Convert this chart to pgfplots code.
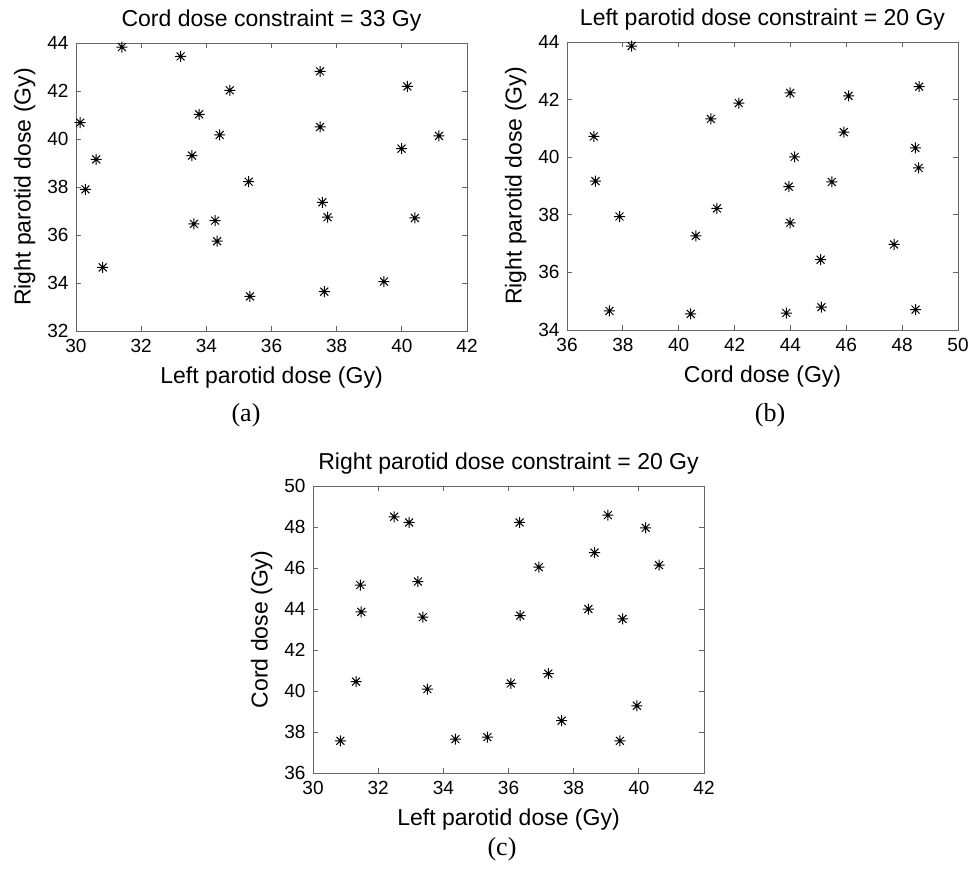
\documentclass[border=0pt]{standalone}
\usepackage{fontspec}
\setmainfont{Liberation Serif}
\setsansfont{Liberation Sans}
\usepackage{pgfplots}
\pgfplotsset{compat=1.18}
\usepackage{pgfplotstable}

% MATLAB-style asterisk: a plus and a cross laid over each other
\pgfdeclareplotmark{mstar}{%
  \pgfpathmoveto{\pgfpoint{-\pgfplotmarksize}{0pt}}%
  \pgfpathlineto{\pgfpoint{\pgfplotmarksize}{0pt}}%
  \pgfpathmoveto{\pgfpoint{0pt}{-\pgfplotmarksize}}%
  \pgfpathlineto{\pgfpoint{0pt}{\pgfplotmarksize}}%
  \pgfpathmoveto{\pgfpoint{-0.72\pgfplotmarksize}{-0.72\pgfplotmarksize}}%
  \pgfpathlineto{\pgfpoint{0.72\pgfplotmarksize}{0.72\pgfplotmarksize}}%
  \pgfpathmoveto{\pgfpoint{-0.72\pgfplotmarksize}{0.72\pgfplotmarksize}}%
  \pgfpathlineto{\pgfpoint{0.72\pgfplotmarksize}{-0.72\pgfplotmarksize}}%
  \pgfusepathqstroke}

% (a) cord constraint 33 Gy: left parotid vs right parotid
\pgfplotstableread{
x y
31.41 43.83
33.21 43.44
37.49 42.82
40.17 42.19
34.72 42.03
33.78 41.03
30.13 40.68
37.49 40.50
34.41 40.17
41.14 40.13
39.99 39.60
33.56 39.31
30.62 39.15
30.29 37.90
35.30 38.22
37.56 37.36
37.72 36.74
40.40 36.71
34.27 36.60
33.62 36.46
34.33 35.74
30.82 34.65
39.45 34.06
37.62 33.64
35.34 33.44
}\tabA

% (b) left parotid constraint 20 Gy: cord vs right parotid
\pgfplotstableread{
x y
38.31 43.86
48.61 42.45
43.99 42.23
46.08 42.13
42.15 41.88
41.15 41.33
36.96 40.72
45.91 40.87
48.47 40.32
44.15 40.01
48.59 39.63
37.02 39.17
45.48 39.14
43.94 38.98
37.88 37.94
41.37 38.22
43.99 37.72
40.61 37.27
47.71 36.97
45.08 36.44
37.52 34.66
40.43 34.56
43.85 34.59
45.11 34.79
48.48 34.71
}\tabB

% (c) right parotid constraint 20 Gy: left parotid vs cord
\pgfplotstableread{
x y
32.49 48.50
32.95 48.22
36.34 48.22
39.05 48.58
40.21 47.96
38.64 46.75
36.93 46.04
40.62 46.14
31.45 45.17
33.22 45.34
31.48 43.86
33.37 43.60
36.36 43.68
38.45 44.00
39.50 43.52
31.32 40.46
33.51 40.09
36.07 40.37
37.22 40.85
39.94 39.28
37.63 38.55
30.84 37.57
34.37 37.65
35.35 37.75
39.42 37.57
}\tabC

\pgfplotsset{
  panel/.style={
    scale only axis, width=391pt, height=288pt, anchor=south west,
    font=\sffamily\fontsize{19}{21}\selectfont,
    /pgf/number format/assume math mode=true,
    tick align=inside, major tick length=5pt,
    axis line style={black!60, line width=0.9pt},
    tick style={black!60, line width=0.9pt},
    xtick distance=2, ytick distance=2,
    xticklabel style={yshift=-5pt},
    yticklabel style={xshift=-4pt},
    label style={font=\sffamily\fontsize{23}{26}\selectfont},
    title style={font=\sffamily\fontsize{23}{26}\selectfont, yshift=2pt},
    ylabel style={yshift=5pt},
    xlabel style={yshift=-7pt},
  },
  pts/.style={only marks, mark=mstar, mark size=5.5pt, black, line width=1pt},
}

\begin{document}
\begin{tikzpicture}
\useasboundingbox (0,0) rectangle (968pt,871pt);

\begin{axis}[panel, at={(76pt,540pt)},
  xmin=30, xmax=42, ymin=32, ymax=44,
  title={Cord dose constraint = 33 Gy},
  xlabel={Left parotid dose (Gy)}, ylabel={Right parotid dose (Gy)}]
  \addplot[pts] table {\tabA};
\end{axis}

\begin{axis}[panel, at={(567pt,541pt)},
  xmin=36, xmax=50, ymin=34, ymax=44,
  title={Left parotid dose constraint = 20 Gy},
  xlabel={Cord dose (Gy)}, ylabel={Right parotid dose (Gy)}]
  \addplot[pts] table {\tabB};
\end{axis}

\begin{axis}[panel, at={(313pt,98pt)}, height=287pt,
  xmin=30, xmax=42, ymin=36, ymax=50,
  title={Right parotid dose constraint = 20 Gy},
  xlabel={Left parotid dose (Gy)}, ylabel={Cord dose (Gy)}]
  \addplot[pts] table {\tabC};
\end{axis}

\node[font=\fontsize{26}{28}\selectfont] at (246pt,456pt) {(a)};
\node[font=\fontsize{26}{28}\selectfont] at (770pt,456pt) {(b)};
\node[font=\fontsize{26}{28}\selectfont] at (502pt,22pt) {(c)};
\end{tikzpicture}
\end{document}
